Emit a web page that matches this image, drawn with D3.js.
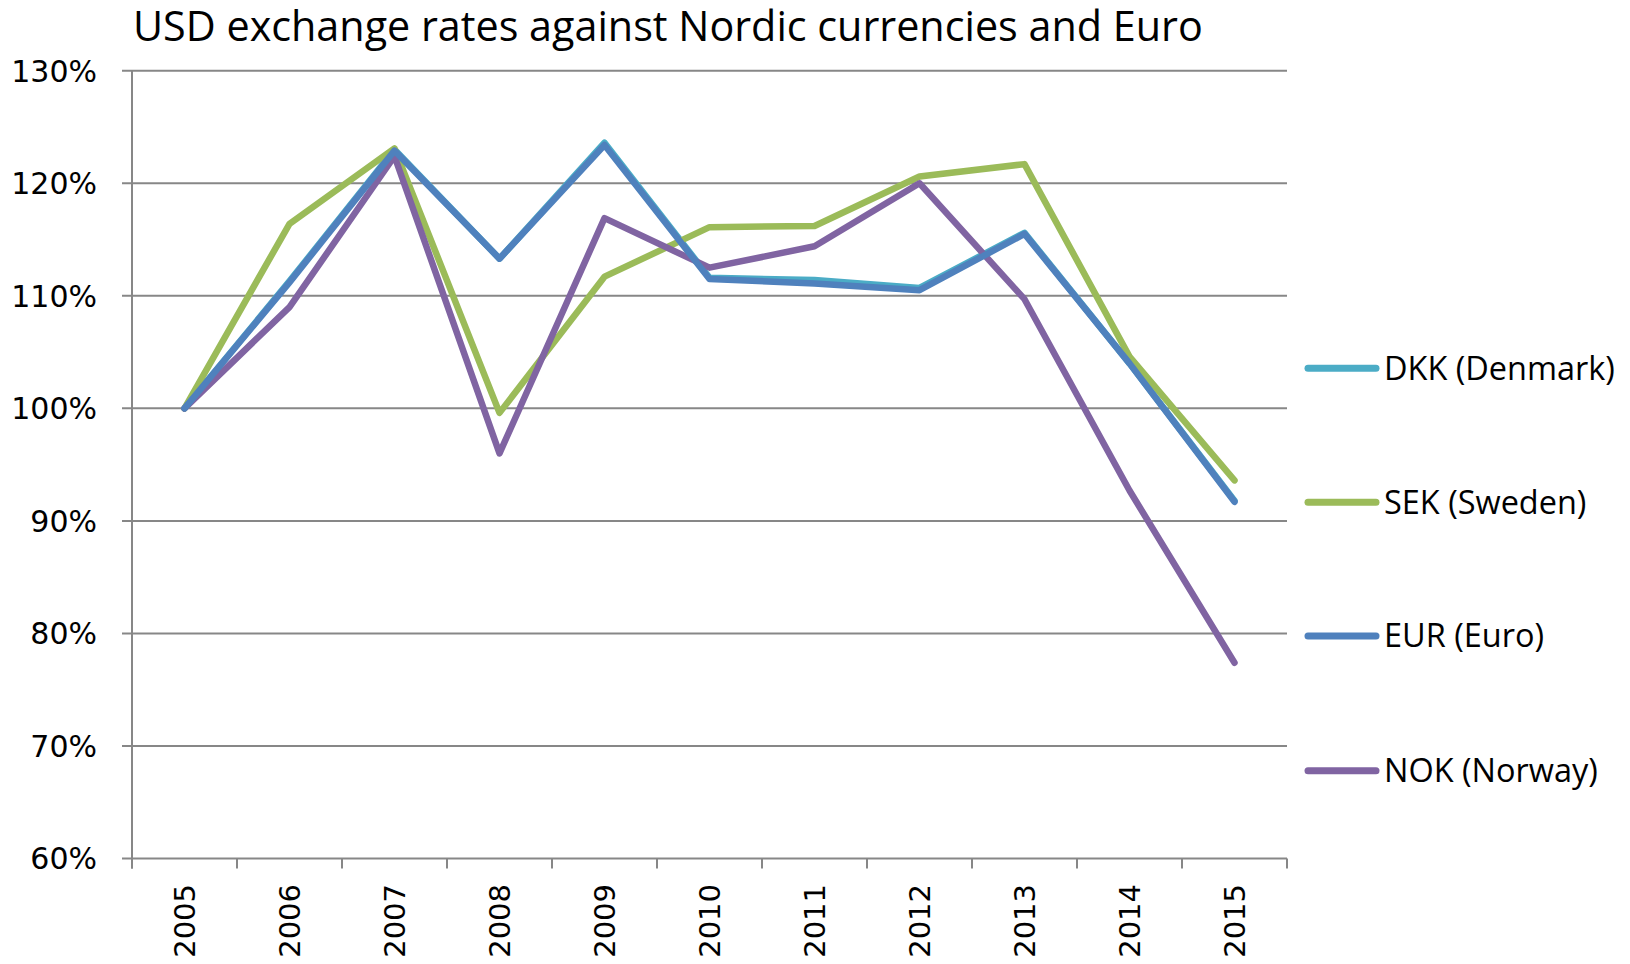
<!DOCTYPE html>
<html>
<head>
<meta charset="utf-8">
<title>USD exchange rates</title>
<script src="https://cdn.jsdelivr.net/npm/d3@7"></script>
<style>
body { margin:0; background:#fff; }
</style>
</head>
<body>
<script>
// data (index, 2005 = 100%)
var years = ["2005","2006","2007","2008","2009","2010","2011","2012","2013","2014","2015"];
var dkk = [100, 111.3, 123.0, 113.3, 123.6, 111.6, 111.4, 110.7, 115.6, 104.0, 91.8];
var sek = [100, 116.4, 123.1, 99.6, 111.7, 116.1, 116.2, 120.6, 121.7, 104.6, 93.6];
var eur = [100, 111.2, 122.9, 113.3, 123.4, 111.5, 111.1, 110.5, 115.5, 104.0, 91.7];
var nok = [100, 109.0, 122.4, 96.0, 116.9, 112.5, 114.4, 120.0, 109.7, 92.7, 77.4];
var seriesNames = ["DKK (Denmark)", "SEK (Sweden)", "EUR (Euro)", "NOK (Norway)"];
var seriesColors = ["#4bacc6", "#9bbb59", "#4f81bd", "#8064a2"];
var yTicks = [60, 70, 80, 90, 100, 110, 120, 130];

var width = 1630;
var height = 964;
var plotLeft = 132, plotRight = 1287, plotTop = 70.7, plotBottom = 858.6;
var gridColor = "#878787";

var svg = d3.select("body")
	.append("svg")
	.attr("width", width)
	.attr("height", height);

var x = d3.scaleBand().domain(years).range([plotLeft, plotRight]);
var y = d3.scaleLinear().domain([60, 130]).range([plotBottom, plotTop]);

// gridlines
svg.selectAll("line.grid")
	.data(yTicks)
	.enter().append("line")
	.attr("class", "grid")
	.attr("x1", plotLeft - 10)
	.attr("x2", plotRight)
	.attr("y1", function(d){ return y(d); })
	.attr("y2", function(d){ return y(d); })
	.style("stroke", gridColor)
	.style("stroke-width", 2);

// y axis line
svg.append("line")
	.attr("x1", plotLeft).attr("x2", plotLeft)
	.attr("y1", plotTop).attr("y2", plotBottom + 10)
	.style("stroke", gridColor)
	.style("stroke-width", 2);

// x tick marks at band edges
var edges = years.map(function(d){ return x(d); }).concat([plotRight]);
svg.selectAll("line.xtick")
	.data(edges)
	.enter().append("line")
	.attr("class", "xtick")
	.attr("x1", function(d){ return d; })
	.attr("x2", function(d){ return d; })
	.attr("y1", plotBottom)
	.attr("y2", plotBottom + 10)
	.style("stroke", gridColor)
	.style("stroke-width", 2);

// y labels
svg.selectAll("text.ylab")
	.data(yTicks)
	.enter().append("text")
	.attr("class", "ylab")
	.attr("x", 97)
	.attr("y", function(d){ return y(d); })
	.attr("dy", "0.36em")
	.attr("text-anchor", "end")
	.style("font-family", "DejaVu Sans")
	.style("font-size", "30px")
	.text(function(d){ return d + "%"; });

// x labels, rotated
svg.selectAll("text.xlab")
	.data(years)
	.enter().append("text")
	.attr("class", "xlab")
	.attr("transform", function(d){ return "translate(" + (x(d) + x.bandwidth()/2) + ",884) rotate(-90)"; })
	.attr("dy", "0.36em")
	.attr("text-anchor", "end")
	.style("font-family", "DejaVu Sans")
	.style("font-size", "29px")
	.text(function(d){ return d; });

// lines
var allSeries = [dkk, sek, eur, nok];
var line = d3.line()
	.x(function(d, i){ return x(years[i]) + x.bandwidth()/2; })
	.y(function(d){ return y(d); });

// draw order: DKK under EUR
var order = [0, 1, 3, 2];
order.forEach(function(k){
	svg.append("path")
		.attr("d", line(allSeries[k]))
		.style("fill", "none")
		.style("stroke", seriesColors[k])
		.style("stroke-width", 6.5)
		.style("stroke-linejoin", "round")
		.style("stroke-linecap", "round");
});

// fit text to a width
function fitText(t, w){
	var len = t.node().getComputedTextLength();
	var fs = parseFloat(t.style("font-size"));
	t.style("font-size", (fs * w / len) + "px");
	return fs * w / len;
}

// title
var title = svg.append("text")
	.attr("x", 133)
	.attr("y", 41)
	.style("font-family", "Open Sans")
	.style("font-size", "40px")
	.text("USD exchange rates against Nordic currencies and Euro");
fitText(title, 1070);

// legend
var legendY = [368.3, 502.3, 636, 770.7];
var legendSize = 32;
seriesNames.forEach(function(name, i){
	svg.append("line")
		.attr("x1", 1308).attr("x2", 1376)
		.attr("y1", legendY[i]).attr("y2", legendY[i])
		.style("stroke", seriesColors[i])
		.style("stroke-width", 7)
		.style("stroke-linecap", "round");
	var t = svg.append("text")
		.attr("x", 1384)
		.attr("y", legendY[i])
		.attr("dy", "0.35em")
		.style("font-family", "Open Sans")
		.style("font-size", legendSize + "px")
		.text(name);
	if (i == 0) legendSize = fitText(t, 231);
});
</script>
</body>
</html>
